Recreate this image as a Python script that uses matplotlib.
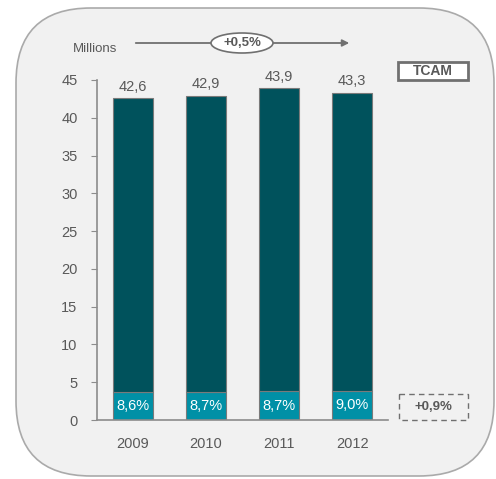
import matplotlib
matplotlib.use('Agg')
import matplotlib.pyplot as plt
from matplotlib.patches import FancyBboxPatch, Ellipse, Rectangle
import numpy as np

years = ['2009', '2010', '2011', '2012']
totals = [42.6, 42.9, 43.9, 43.3]
shares = [8.6, 8.7, 8.7, 9.0]
total_labels = ['42,6', '42,9', '43,9', '43,3']
share_labels = ['8,6%', '8,7%', '8,7%', '9,0%']
cagr_total = '+0,5%'
cagr_share = '+0,9%'

plt.rcParams['font.family'] = ['Liberation Sans', 'DejaVu Sans']

dark = '#00525C'
light = '#0090A6'
grey_txt = '#595959'
axis_grey = '#8C8C8C'

fig = plt.figure(figsize=(4.96, 4.79), dpi=100)
fig.patch.set_facecolor('white')

# background panel in pixel coords
bg = fig.add_axes([0, 0, 1, 1])
bg.set_xlim(0, 496)
bg.set_ylim(479, 0)
bg.axis('off')
bg.add_patch(FancyBboxPatch((16, 8), 478, 468, boxstyle='round,pad=0,rounding_size=75',
                            facecolor='#F1F1F1', edgecolor='#AAAAAA', lw=1.2, zorder=0))

# arrow + ellipse
bg.annotate('', xy=(352, 43), xytext=(133, 43),
            arrowprops=dict(arrowstyle='-|>', color='#707070', lw=1.3, mutation_scale=10), zorder=2)
bg.add_patch(Ellipse((242, 43), 62, 20, facecolor='white', edgecolor='#707070', lw=1.2, zorder=5))
bg.text(242, 43, cagr_total, ha='center', va='center', fontsize=9.5, fontweight='bold',
        color=grey_txt, zorder=6)
bg.text(73, 49, 'Millions', ha='left', va='center', fontsize=9.5, color=grey_txt)

# TCAM box
bg.add_patch(Rectangle((398, 62), 70, 18, facecolor='white', edgecolor='#707070', lw=2))
bg.text(433, 71, 'TCAM', ha='center', va='center', fontsize=10, fontweight='bold', color=grey_txt)

# dashed box for share cagr
bg.add_patch(Rectangle((399, 394), 69, 26, facecolor='none', edgecolor='#707070', lw=1, ls=(0, (4, 3))))
bg.text(433.5, 407, cagr_share, ha='center', va='center', fontsize=9.5, fontweight='bold', color=grey_txt)

ax = fig.add_axes([97 / 496, 1 - 420 / 479, (388 - 97) / 496, 340 / 479])
ax.set_facecolor('none')
x = np.arange(len(years))
base = [t * s / 100 for t, s in zip(totals, shares)]
rest = [t - b for t, b in zip(totals, base)]
ax.bar(x, base, width=0.55, color=light, edgecolor='#7A7A7A', lw=0.8)
ax.bar(x, rest, bottom=base, width=0.55, color=dark, edgecolor='#7A7A7A', lw=0.8)

for i in range(len(years)):
    ax.text(x[i], totals[i] + 0.6, total_labels[i], ha='center', va='bottom', fontsize=10.5, color=grey_txt)
    ax.text(x[i], base[i] / 2, share_labels[i], ha='center', va='center', fontsize=10.5, color='white')

ax.set_xlim(-0.49, 3.49)
ax.set_ylim(0, 45)
ax.set_yticks(range(0, 50, 5))
ax.set_xticks(x)
ax.set_xticklabels(years)
for s in ['top', 'right']:
    ax.spines[s].set_visible(False)
for s in ['left', 'bottom']:
    ax.spines[s].set_color(axis_grey)
    ax.spines[s].set_linewidth(1.2)
ax.tick_params(axis='y', colors=axis_grey, labelcolor=grey_txt, labelsize=10.5, length=4, pad=10)
ax.tick_params(axis='x', length=0, labelcolor=grey_txt, labelsize=10.5, pad=12)

fig.savefig('out.png', dpi=100, facecolor='white')
